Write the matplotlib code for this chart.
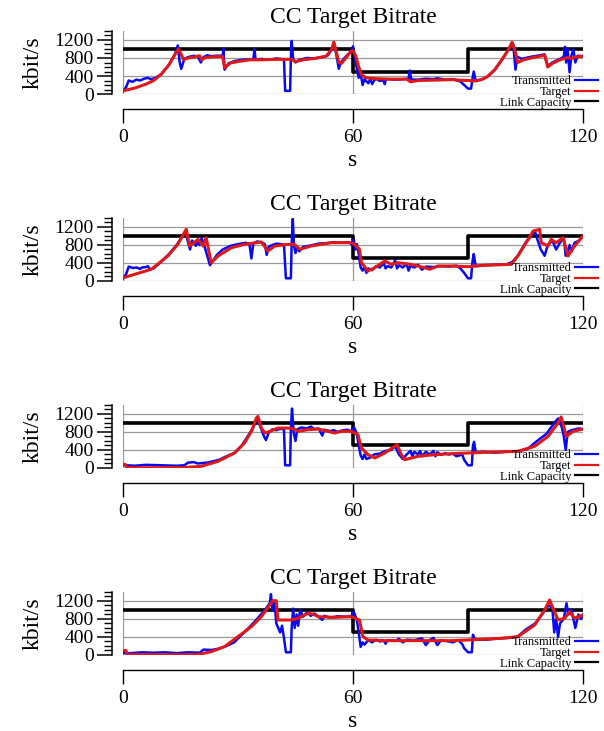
import numpy as np
import matplotlib
matplotlib.use("Agg")
import matplotlib.pyplot as plt
from matplotlib.ticker import MultipleLocator

plt.rcParams['font.family'] = ['Liberation Serif', 'DejaVu Serif']

# link capacity (kbit/s), step changes
cap_t = [0, 60, 90, 120]
cap_v = [1000, 500, 1000, 1000]

# ---- run 1 ----
tg1_t = [0, 3, 6, 8, 10, 12, 13.5, 14.5, 15.2, 15.8, 17, 19, 20, 20.5, 21.5, 24, 26, 26.5, 28, 30, 33, 36, 40, 44, 45, 47, 50, 53,
         54.5, 55, 55.6, 56.3, 57, 59.5, 60, 60.7, 61.5, 62.3, 63.5, 66, 70, 74, 75, 77, 82, 86, 88, 90, 92, 93.5, 95, 97, 99,
         100.5, 101.5, 102.3, 103, 104.5, 107, 110, 110.8, 112, 114, 116, 117, 118, 120]
tg1 = [70, 130, 220, 300, 440, 650, 870, 1000, 880, 760, 800, 830, 850, 760, 810, 830, 830, 580, 690, 720, 760, 760, 770, 770, 720, 760,
       790, 840, 1000, 1150, 950, 700, 680, 950, 960, 850, 600, 420, 360, 340, 330, 330, 270, 300, 310, 320, 305, 300, 290, 320, 380,
       540, 780, 980, 1150, 950, 700, 760, 810, 860, 600, 680, 760, 810, 790, 820, 840]
tx1_t = [0, 0.8, 1.5, 2.5, 3.5, 4.5, 5.5, 6.5, 7.2, 8.3, 10, 12, 13.5, 14.3, 14.8, 15.2, 16, 17, 18.5, 19.5, 20.3, 21, 22, 23, 24.5,
         26, 26.2, 26.5, 27.5, 29, 31, 33, 34, 34.3, 34.6, 36, 38, 40, 42, 42.3, 43.6, 43.8, 44, 44.4, 45, 46, 48, 50, 52, 53.5,
         54.5, 55, 55.6, 56.3, 56.8, 58, 59.5, 60, 60.5, 61, 61.5, 62, 62.5, 63, 63.5, 64, 64.5, 65, 65.5, 66, 67, 68, 68.3, 68.6,
         71, 73, 74.5, 74.8, 75.2, 77, 79, 81, 82, 84, 86, 88, 89, 90, 90.8, 91.2, 91.5, 92, 93.5, 95, 97, 99, 100.5, 101.8,
         102.4, 102.8, 104, 106, 108, 110, 110.8, 112, 114, 115, 115.3, 115.6, 116, 116.5, 117, 117.5, 118, 118.6, 120]
tx1 = [60, 150, 300, 270, 320, 300, 340, 360, 330, 350, 440, 650, 870, 1080, 700, 560, 780, 820, 850, 830, 700, 820, 860, 840, 850,
       850, 1000, 540, 680, 730, 760, 770, 760, 1000, 760, 780, 760, 790, 770, 70, 70, 800, 1180, 780, 700, 760, 800, 790, 820, 860,
       1000, 1150, 900, 560, 700, 820, 950, 1060, 800, 560, 360, 460, 200, 330, 280, 240, 330, 220, 300, 340, 290, 300, 220, 330,
       320, 330, 340, 520, 320, 320, 340, 330, 350, 320, 330, 280, 200, 120, 120, 350, 500, 300, 320, 380, 540, 780, 980, 1110,
       540, 830, 780, 820, 850, 880, 620, 700, 780, 830, 1050, 700, 1000, 480, 860, 990, 700, 850, 840]

# ---- run 2 ----
tg2_t = [0, 7.4, 11.7, 14.3, 16.5, 17.4, 19.6, 20.9, 21.7, 23, 24.8, 28.3, 31.7, 36.1, 37.8, 39.6, 43, 44.7, 46.1, 49.1, 54.3,
         59.6, 60.4, 61.7, 62.2, 63.9, 65.7, 68.3, 70, 71.7, 75, 78.7, 80, 82.2, 85.7, 90, 94.3, 101.3, 103, 105.7, 107, 108.7,
         109.1, 110.9, 111.7, 113, 114.8, 116.1, 117.8, 120]
tg2 = [70, 260, 555, 814, 1147, 777, 925, 777, 962, 407, 555, 740, 814, 866, 666, 777, 814, 814, 703, 777, 851, 851, 814, 703, 407,
       222, 296, 444, 370, 407, 370, 296, 260, 333, 333, 318, 348, 370, 555, 925, 1110, 1147, 851, 777, 925, 850, 962, 555, 777, 1000]
tx2_t = [0, 0.8, 1.5, 2.5, 3.5, 4.5, 5, 6, 6.5, 7, 8, 10, 12, 14, 15.5, 16.3, 17, 17.5, 18, 19, 19.5, 20, 20.5, 21, 21.5, 22.7,
         24.5, 26, 28, 30, 31.5, 32, 33, 33.5, 34, 35, 36, 37, 37.5, 38, 39, 40, 41, 42, 42.5, 43.8, 44, 44.3, 44.6, 45, 45.5, 46,
         47, 49, 51, 53, 55, 57, 59, 59.8, 60.2, 60.6, 61, 61.5, 62, 62.5, 63, 63.5, 64, 65, 66, 67, 68, 68.5, 69, 70, 71, 71.5,
         72, 73, 74, 74.5, 75, 76, 77, 78, 79, 81, 83, 85, 87, 88, 89, 90, 90.8, 91.2, 91.5, 92, 94, 97, 100, 101.5, 103, 105,
         106.5, 107.5, 108, 109, 110, 110.8, 112, 113, 114, 115, 115.5, 116, 116.5, 117, 117.8, 119, 120]
tx2 = [50, 150, 320, 290, 300, 270, 300, 310, 330, 260, 280, 430, 600, 800, 1000, 1100, 850, 700, 900, 780, 860, 800, 950, 850, 700,
       350, 580, 700, 780, 820, 840, 850, 820, 500, 830, 880, 860, 820, 580, 760, 800, 830, 820, 810, 60, 60, 820, 1380, 800, 620,
       750, 660, 760, 790, 830, 840, 860, 850, 860, 800, 920, 700, 820, 600, 300, 230, 320, 180, 280, 240, 330, 300, 400, 280,
       330, 300, 460, 280, 350, 300, 380, 230, 340, 300, 360, 250, 320, 310, 330, 320, 340, 280, 180, 60, 60, 450, 600, 330,
       350, 360, 370, 420, 560, 850, 1000, 1100, 950, 700, 560, 800, 900, 700, 850, 960, 560, 650, 800, 650, 850, 900, 1000]

# ---- run 3 ----
tg3_t = [0, 0.6, 1, 5, 10, 16, 20.4, 24.8, 29.1, 31.7, 33.5, 34.8, 35.2, 36.1, 37, 38.5, 40.4, 43, 44.7, 45.6, 48.3, 50.9, 53.5,
         55.2, 57, 59.6, 61.3, 62.2, 63.9, 65.7, 68.3, 71.5, 72.6, 73.5, 77, 81.3, 85.7, 90, 94.3, 103, 107.4, 110.9, 113.5,
         114.3, 115.2, 115.7, 117.4, 120]
tg3 = [80, 80, 10, 5, 5, 10, 37, 148, 333, 555, 814, 1110, 1147, 888, 777, 820, 888, 888, 866, 814, 851, 866, 814, 777, 814, 814,
       740, 444, 296, 222, 333, 518, 296, 185, 260, 296, 318, 333, 348, 370, 481, 703, 1000, 1133, 851, 703, 814, 866]
tx3_t = [0, 1, 3, 6, 10, 14, 16, 17, 18.5, 19.5, 22, 25, 27, 29, 31, 32.5, 34, 35, 36, 36.8, 37.3, 38, 39, 40, 41, 42, 42.3, 43.6,
         43.8, 44.1, 44.5, 45, 45.5, 46.5, 48, 49, 50, 51, 52, 52.5, 54, 55, 56, 57, 58.5, 59.5, 60.3, 61, 61.5, 62, 62.5, 63, 63.5,
         64.5, 65.5, 67, 68.5, 70, 71, 72, 73, 74, 75, 75.5, 76, 77, 77.5, 78, 79, 80, 81, 81.5, 82, 83, 84, 85, 86, 87, 88.5, 89,
         90, 91, 91.3, 91.6, 92, 94, 97, 100, 103, 105.5, 108, 110.5, 112.5, 113.5, 114.5, 115, 115.5, 116, 117, 118, 119, 120]
tx3 = [60, 60, 50, 70, 60, 50, 60, 120, 130, 100, 120, 180, 260, 330, 500, 700, 900, 1100, 880, 700, 620, 780, 860, 840, 870, 860,
       60, 60, 870, 1320, 800, 600, 860, 900, 880, 920, 860, 880, 720, 850, 820, 840, 800, 830, 850, 820, 900, 760, 500, 280, 200,
       300, 200, 230, 300, 320, 380, 400, 480, 300, 200, 300, 380, 260, 360, 300, 380, 260, 360, 300, 380, 260, 350, 290, 330,
       300, 320, 260, 300, 180, 60, 60, 500, 580, 350, 360, 340, 360, 370, 420, 600, 760, 1000, 1100, 900, 700, 400, 800, 840, 860,
       880, 860]

# ---- run 4 ----
tg4_t = [0, 0.8, 1, 10, 19.6, 23, 26.5, 30, 33.5, 36.1, 38.3, 39.1, 40, 40.4, 43.9, 45.6, 48.3, 49.6, 50.9, 55.2, 59.6, 61.7, 62.6,
         63.9, 68.3, 77, 85.7, 90, 98.7, 103, 107.4, 110, 111.3, 112.2, 113.5, 115.2, 116.5, 117.8, 120]
tg4 = [100, 100, 10, 5, 10, 74, 185, 407, 629, 851, 1110, 1206, 1206, 777, 777, 814, 925, 910, 851, 836, 851, 777, 407, 333, 318,
       318, 318, 333, 370, 407, 666, 1000, 1221, 1036, 777, 814, 962, 814, 888]
tx4_t = [0, 2, 5, 8, 11, 14, 17, 20, 21, 23, 25, 27, 29, 31, 33, 35, 37, 38.3, 38.6, 39, 39.5, 40, 41, 41.5, 42, 42.5, 43.8, 44,
         44.4, 44.8, 45.3, 45.7, 46.2, 47, 48, 49, 50, 51, 52, 52.5, 54, 56, 58, 59.5, 60.2, 61, 61.5, 62, 62.5, 63, 64, 65, 66,
         67, 68, 68.5, 69, 71, 72, 73, 74, 76, 78, 79, 80, 81, 82, 83, 85, 86, 87.5, 88.5, 89, 90, 91, 91.3, 91.6, 92, 95, 98,
         101, 103, 105, 107.5, 110, 111, 112, 112.5, 113, 113.5, 114, 115, 115.7, 116.2, 117, 117.5, 118, 118.8, 119.5, 120]
tx4 = [40, 40, 60, 50, 60, 40, 60, 50, 120, 110, 140, 200, 280, 450, 620, 800, 1000, 1150, 1350, 1000, 1200, 700, 500, 650, 380,
       60, 60, 600, 1030, 600, 900, 650, 1000, 850, 950, 870, 920, 850, 780, 870, 830, 860, 850, 860, 960, 780, 500, 180, 280,
       230, 330, 280, 340, 300, 320, 250, 330, 310, 360, 280, 340, 330, 370, 220, 330, 380, 220, 330, 300, 280, 330, 240, 150,
       60, 60, 450, 380, 340, 340, 370, 380, 410, 560, 700, 980, 1100, 1050, 500, 800, 400, 700, 800, 1150, 900, 1000, 800, 600,
       900, 800, 900]

runs = [(tx1_t, tx1, tg1_t, tg1), (tx2_t, tx2, tg2_t, tg2),
        (tx3_t, tx3, tg3_t, tg3), (tx4_t, tx4, tg4_t, tg4)]

fig = plt.figure(figsize=(6.04, 7.31), dpi=100)
bottoms = [0.8714, 0.6156, 0.3598, 0.1040]

for (t_tx, tx, t_tg, tg), b in zip(runs, bottoms):
    ax = fig.add_axes([0.2036, b, 0.7616, 0.0862])
    ax.step(cap_t, cap_v, where='post', color='black', lw=2.6, zorder=2, label='Link Capacity')
    ax.plot(t_tx, tx, color='#0a0aee', lw=1.8, zorder=3, label='Transmitted')
    ax.plot(t_tg, tg, color='#e01818', lw=2.2, zorder=4, label='Target')

    ax.set_xlim(0, 120)
    ax.set_ylim(0, 1400)
    ax.set_xticks([0, 60, 120])
    ax.set_yticks([0, 400, 800, 1200])
    ax.yaxis.set_minor_locator(MultipleLocator(100))
    ax.grid(True, color='#999999', lw=0.9)
    ax.set_axisbelow(True)

    for s in ['top', 'right']:
        ax.spines[s].set_visible(False)
    ax.spines['left'].set_position(('outward', 8))
    ax.spines['bottom'].set_position(('outward', 11))
    ax.spines['left'].set_linewidth(1.1)
    ax.spines['bottom'].set_linewidth(1.0)
    ax.tick_params(axis='y', which='major', length=11, width=1.1, labelsize=14, pad=2)
    ax.tick_params(axis='y', which='minor', length=6, width=1.0)
    ax.tick_params(axis='x', length=10, width=1.0, labelsize=14, pad=4)

    ax.set_title('CC Target Bitrate', fontsize=17, pad=6)
    ax.set_ylabel('kbit/s', fontsize=17, labelpad=8)
    ax.set_xlabel('s', fontsize=17, labelpad=3)

    h, l = ax.get_legend_handles_labels()
    order = [1, 2, 0]
    leg = ax.legend([h[i] for i in order], [l[i] for i in order], loc='center right',
                    bbox_to_anchor=(1.0326, 0.03), frameon=False, fontsize=9,
                    markerfirst=False, handlelength=1.85, handletextpad=0.25,
                    labelspacing=-0.1, borderpad=0, borderaxespad=0)
    for ln in leg.get_lines():
        ln.set_linewidth(1.6)

fig.savefig('out.png', dpi=100)
